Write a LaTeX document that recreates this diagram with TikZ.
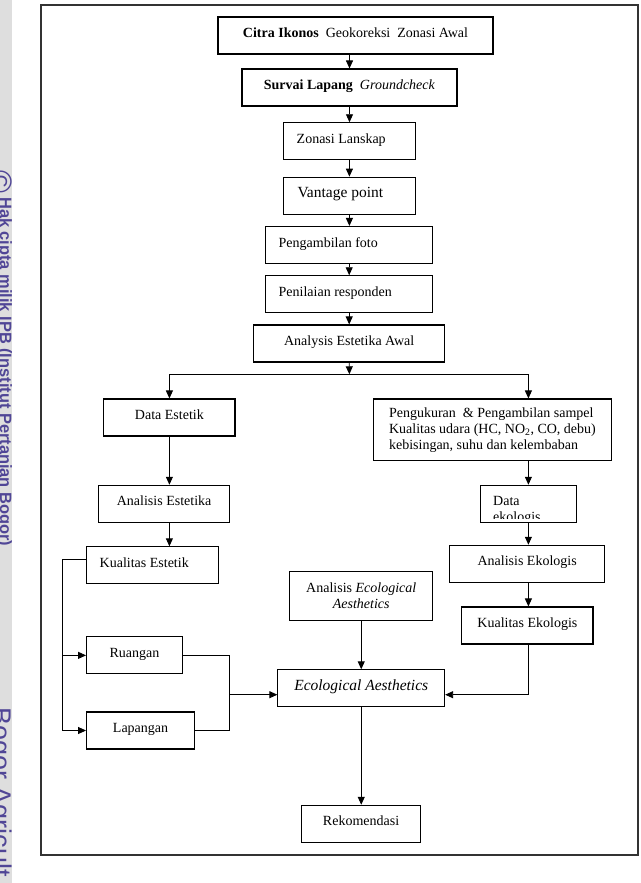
\documentclass[tikz,border=0pt]{standalone}
\usepackage{fontspec}
\setmainfont{Liberation Serif}
\setsansfont{Liberation Sans}
\usetikzlibrary{arrows.meta}

\definecolor{ipbbiru}{RGB}{80,70,150}

\begin{document}
\begin{tikzpicture}[
    x=1pt, y=-1pt,
    bingkai/.style={draw, line width=1.1pt, minimum height=37pt, inner sep=0pt,
      font=\fontsize{14}{16}\selectfont},
    kotak/.style={bingkai, text height=10pt, text depth=6pt},
    panah/.style={line width=.9pt, -{Triangle[length=8pt,width=7pt]}}]

      \useasboundingbox (0,0) rectangle (640,883);

      % tanda air
      \fill[black!13] (0,0) rectangle (12,883);
      \node[rotate=-90, inner sep=0, text=ipbbiru,
        font=\sffamily\fontsize{31}{31}\selectfont] (hakc) at (1,181.5) {©};
      \node[rotate=-90, anchor=base west, inner sep=0, text=ipbbiru,
        font=\sffamily\bfseries\fontsize{16.4}{17}\selectfont] (hak) at (0,197)
        {Hak cipta milik IPB (Institut Pertanian Bogor)};
      \node[rotate=-90, anchor=base west, inner sep=0, text=ipbbiru,
        font=\sffamily\fontsize{27}{27}\selectfont] (bogor) at (-7,707)
        {Bogor Agricult};

      \draw[line width=1.2pt, black!80] (41,5) rectangle (638,855);

      % alur atas
      \node[kotak, minimum width=275pt] (citra) at (355.5,35.5)
        {\textbf{Citra Ikonos}\ \ Geokoreksi\ \ Zonasi Awal};
      \node[kotak, minimum width=215pt] (survai) at (349.5,87.5)
        {\textbf{Survai Lapang}\ \ \textit{Groundcheck}};
      \node[kotak, minimum width=131.6pt, text width=105.4pt, align=flush left] (zonasi) at (349.4,141.3)
        {Zonasi Lanskap};
      \node[kotak, minimum width=131.6pt, text width=103.8pt, align=flush left,
        font=\fontsize{15.5}{17}\selectfont] (vantage) at (349.4,195.7) {Vantage point};
      \node[kotak, minimum width=167.2pt, text width=141pt, align=flush left] (foto) at (349.2,245)
        {Pengambilan foto};
      \node[kotak, minimum width=167.2pt, text width=141pt, align=flush left] (responden) at (349.2,294.3)
        {Penilaian responden};
      \node[kotak, minimum width=190.8pt] (awal) at (349.2,343.5) {Analysis Estetika Awal};

      \coordinate (cabang) at (349.4,374.3);

      % cabang kiri
      \node[kotak, minimum width=131.2pt] (estetik) at (169.4,417.5) {Data Estetik};
      \node[kotak, minimum width=131.2pt] (analisis) at (164.1,503.8) {Analisis Estetika};
      \node[kotak, minimum width=131.6pt, text width=105.4pt, align=flush left] (kualest) at (152.4,565.35)
        {Kualitas Estetik};
      \node[kotak, minimum width=95.7pt] (ruang) at (134.45,655.35) {Ruangan};
      \node[kotak, minimum width=107.9pt] (lapang) at (140.55,730.5) {Lapangan};

      % cabang kanan
      \node[bingkai, minimum width=238.7pt, minimum height=61.3pt,
        align=flush left] (ukur) at (492.45,429.65)
        {Pengukuran\ \ \& Pengambilan sampel\\
         Kualitas udara (HC, NO\textsubscript{2}, CO, debu)\\
         kebisingan, suhu dan kelembaban};
      \node[kotak, minimum width=95.6pt] (ekodata) at (528.4,503.8) {};
      \begin{scope}
        \clip (ekodata.north west) rectangle ([yshift=4pt]ekodata.south east);
        \node[anchor=base west, inner sep=0, align=flush left,
          font=\fontsize{14}{16}\selectfont] (ekoteks) at (493,521.5) {Data\\ekologis};
      \end{scope}
      \node[kotak, minimum width=155.3pt] (anaeko) at (527.15,563.8) {Analisis Ekologis};
      \node[kotak, minimum width=131.2pt] (kualeko) at (527.4,625.5) {Kualitas Ekologis};

      % tengah
      \node[bingkai, minimum width=143.1pt, minimum height=49.4pt,
        align=flush center] (anaea) at (361.25,596)
        {Analisis \textit{Ecological}\\\textit{Aesthetics}};
      \node[kotak, minimum width=166.7pt, font=\fontsize{15.5}{17}\selectfont\itshape]
        (ea) at (361.25,688.35) {Ecological Aesthetics};
      \node[kotak, minimum width=119.7pt] (rekom) at (361.05,823.8) {Rekomendasi};

      \coordinate (sisi) at (62.5,0);
      \coordinate (gabung) at (229.7,694.7);

      \draw[panah] (citra.south -| survai) -- (survai.north);
      \foreach \a/\b in {survai/zonasi, zonasi/vantage, vantage/foto,
                         foto/responden, responden/awal}
        \draw[panah] (\a.south) -- (\a.south |- \b.north);

      \draw[panah] (awal.south) -- (cabang);
      \draw[panah] (cabang) -| (estetik.north);
      \draw[panah] (cabang) -| (ukur.north -| ekodata);

      \draw[panah] (estetik.south) -- (estetik.south |- analisis.north);
      \draw[panah] (analisis.south -| estetik) -- (kualest.north -| estetik);
      \draw[panah] ([yshift=6pt]kualest.west) -| (sisi |- lapang.west) -- (lapang.west);
      \draw[panah] (sisi |- ruang.west) -- (ruang.west);
      \draw[line width=.9pt] (ruang.east) -| (gabung) |- (lapang.east);
      \draw[panah] (gabung) -- (gabung -| ea.west);

      \draw[panah] (ukur.south -| ekodata) -- (ekodata.north);
      \draw[panah] (ekodata.south) -- (ekodata.south |- anaeko.north);
      \draw[panah] (anaeko.south -| ekodata) -- (kualeko.north -| ekodata);
      \draw[panah] (kualeko.south -| ekodata) |- (gabung -| ea.east);

      \draw[panah] (anaea.south) -- (ea.north);
      \draw[panah] (ea.south) -- (ea.south |- rekom.north);

    \end{tikzpicture}
\end{document}
